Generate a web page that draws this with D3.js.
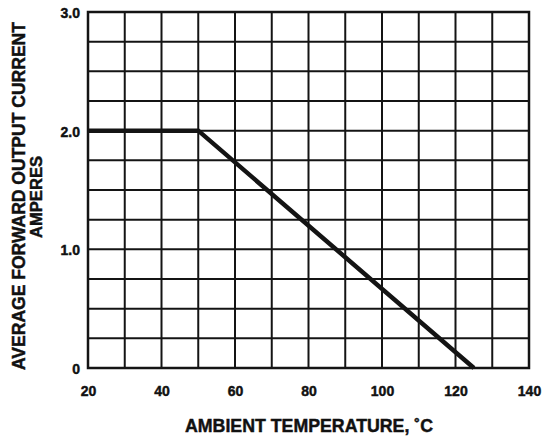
<!DOCTYPE html>
<html>
<head>
<meta charset="utf-8">
<script src="https://cdn.jsdelivr.net/npm/d3@7"></script>
<style>
  html, body { margin: 0; padding: 0; background: #fff; }
  svg { display: block; }
  text { font-family: "Liberation Sans", Arial, sans-serif; font-weight: bold; fill: #111; stroke: #111; stroke-width: 0.45px; }
</style>
</head>
<body>
<svg id="chart" width="542" height="441"></svg>
<script>
// Data
const temperatures = [20, 50, 125];           // ambient temperature, °C
const currents = [2.0, 2.0, 0];               // average forward output current, A
const xTickValues = [20, 40, 60, 80, 100, 120, 140];
const yTickValues = [0, 1.0, 2.0, 3.0];
const yTickLabels = ["0", "1.0", "2.0", "3.0"];
const xGridValues = d3.range(20, 141, 10);
const yGridValues = d3.range(0, 3.001, 0.25);

const svg = d3.select("#chart");
const plotL = 88, plotR = 529, plotT = 12, plotB = 368;

const x = d3.scaleLinear().domain([20, 140]).range([plotL, plotR]);
const y = d3.scaleLinear().domain([0, 3]).range([plotB, plotT]);

const ink = "#141414";

// Grid
svg.append("g").selectAll("line").data(xGridValues).join("line")
  .attr("x1", d => x(d)).attr("x2", d => x(d))
  .attr("y1", plotT).attr("y2", plotB)
  .attr("stroke", ink).attr("stroke-width", 2);
svg.append("g").selectAll("line").data(yGridValues).join("line")
  .attr("x1", plotL).attr("x2", plotR)
  .attr("y1", d => y(d)).attr("y2", d => y(d))
  .attr("stroke", ink).attr("stroke-width", 2);

// Frame
svg.append("rect")
  .attr("x", plotL).attr("y", plotT)
  .attr("width", plotR - plotL).attr("height", plotB - plotT)
  .attr("fill", "none").attr("stroke", ink).attr("stroke-width", 2.5);

// Axes (labels only)
const xAxis = d3.axisBottom(x).tickValues(xTickValues).tickSize(0).tickPadding(0);
const gx = svg.append("g").attr("transform", `translate(0,${plotB})`).call(xAxis);
gx.select(".domain").remove();
gx.selectAll("text").attr("y", 28).attr("dy", 0)
  .style("font-size", "14px").style("font-weight", "bold")
  .style("font-family", '"Liberation Sans", Arial, sans-serif').attr("fill", ink);

const yAxis = d3.axisLeft(y).tickValues(yTickValues)
  .tickFormat((d, i) => yTickLabels[i]).tickSize(0).tickPadding(8);
const gy = svg.append("g").attr("transform", `translate(${plotL},0)`).call(yAxis);
gy.select(".domain").remove();
gy.selectAll("text").attr("dy", "0.4em")
  .style("font-size", "14px").style("font-weight", "bold")
  .style("font-family", '"Liberation Sans", Arial, sans-serif').attr("fill", ink);

// Derating curve
const line = d3.line().x((d, i) => x(temperatures[i])).y(d => y(d));
svg.append("path").datum(currents)
  .attr("d", line)
  .attr("fill", "none").attr("stroke", ink)
  .attr("stroke-width", 4.5).attr("stroke-linejoin", "miter");

// Axis titles
svg.append("text")
  .attr("x", 309).attr("y", 432)
  .attr("text-anchor", "middle")
  .attr("textLength", 248).attr("lengthAdjust", "spacingAndGlyphs")
  .style("font-size", "18px")
  .text("AMBIENT TEMPERATURE, \u02DAC");

svg.append("text")
  .attr("transform", "translate(25,196) rotate(-90)")
  .attr("text-anchor", "middle")
  .attr("textLength", 348).attr("lengthAdjust", "spacingAndGlyphs")
  .style("font-size", "17.5px")
  .text("AVERAGE FORWARD OUTPUT CURRENT");
svg.append("text")
  .attr("transform", "translate(42,197) rotate(-90)")
  .attr("text-anchor", "middle")
  .attr("textLength", 82).attr("lengthAdjust", "spacingAndGlyphs")
  .style("font-size", "17px")
  .text("AMPERES");
</script>
</body>
</html>
